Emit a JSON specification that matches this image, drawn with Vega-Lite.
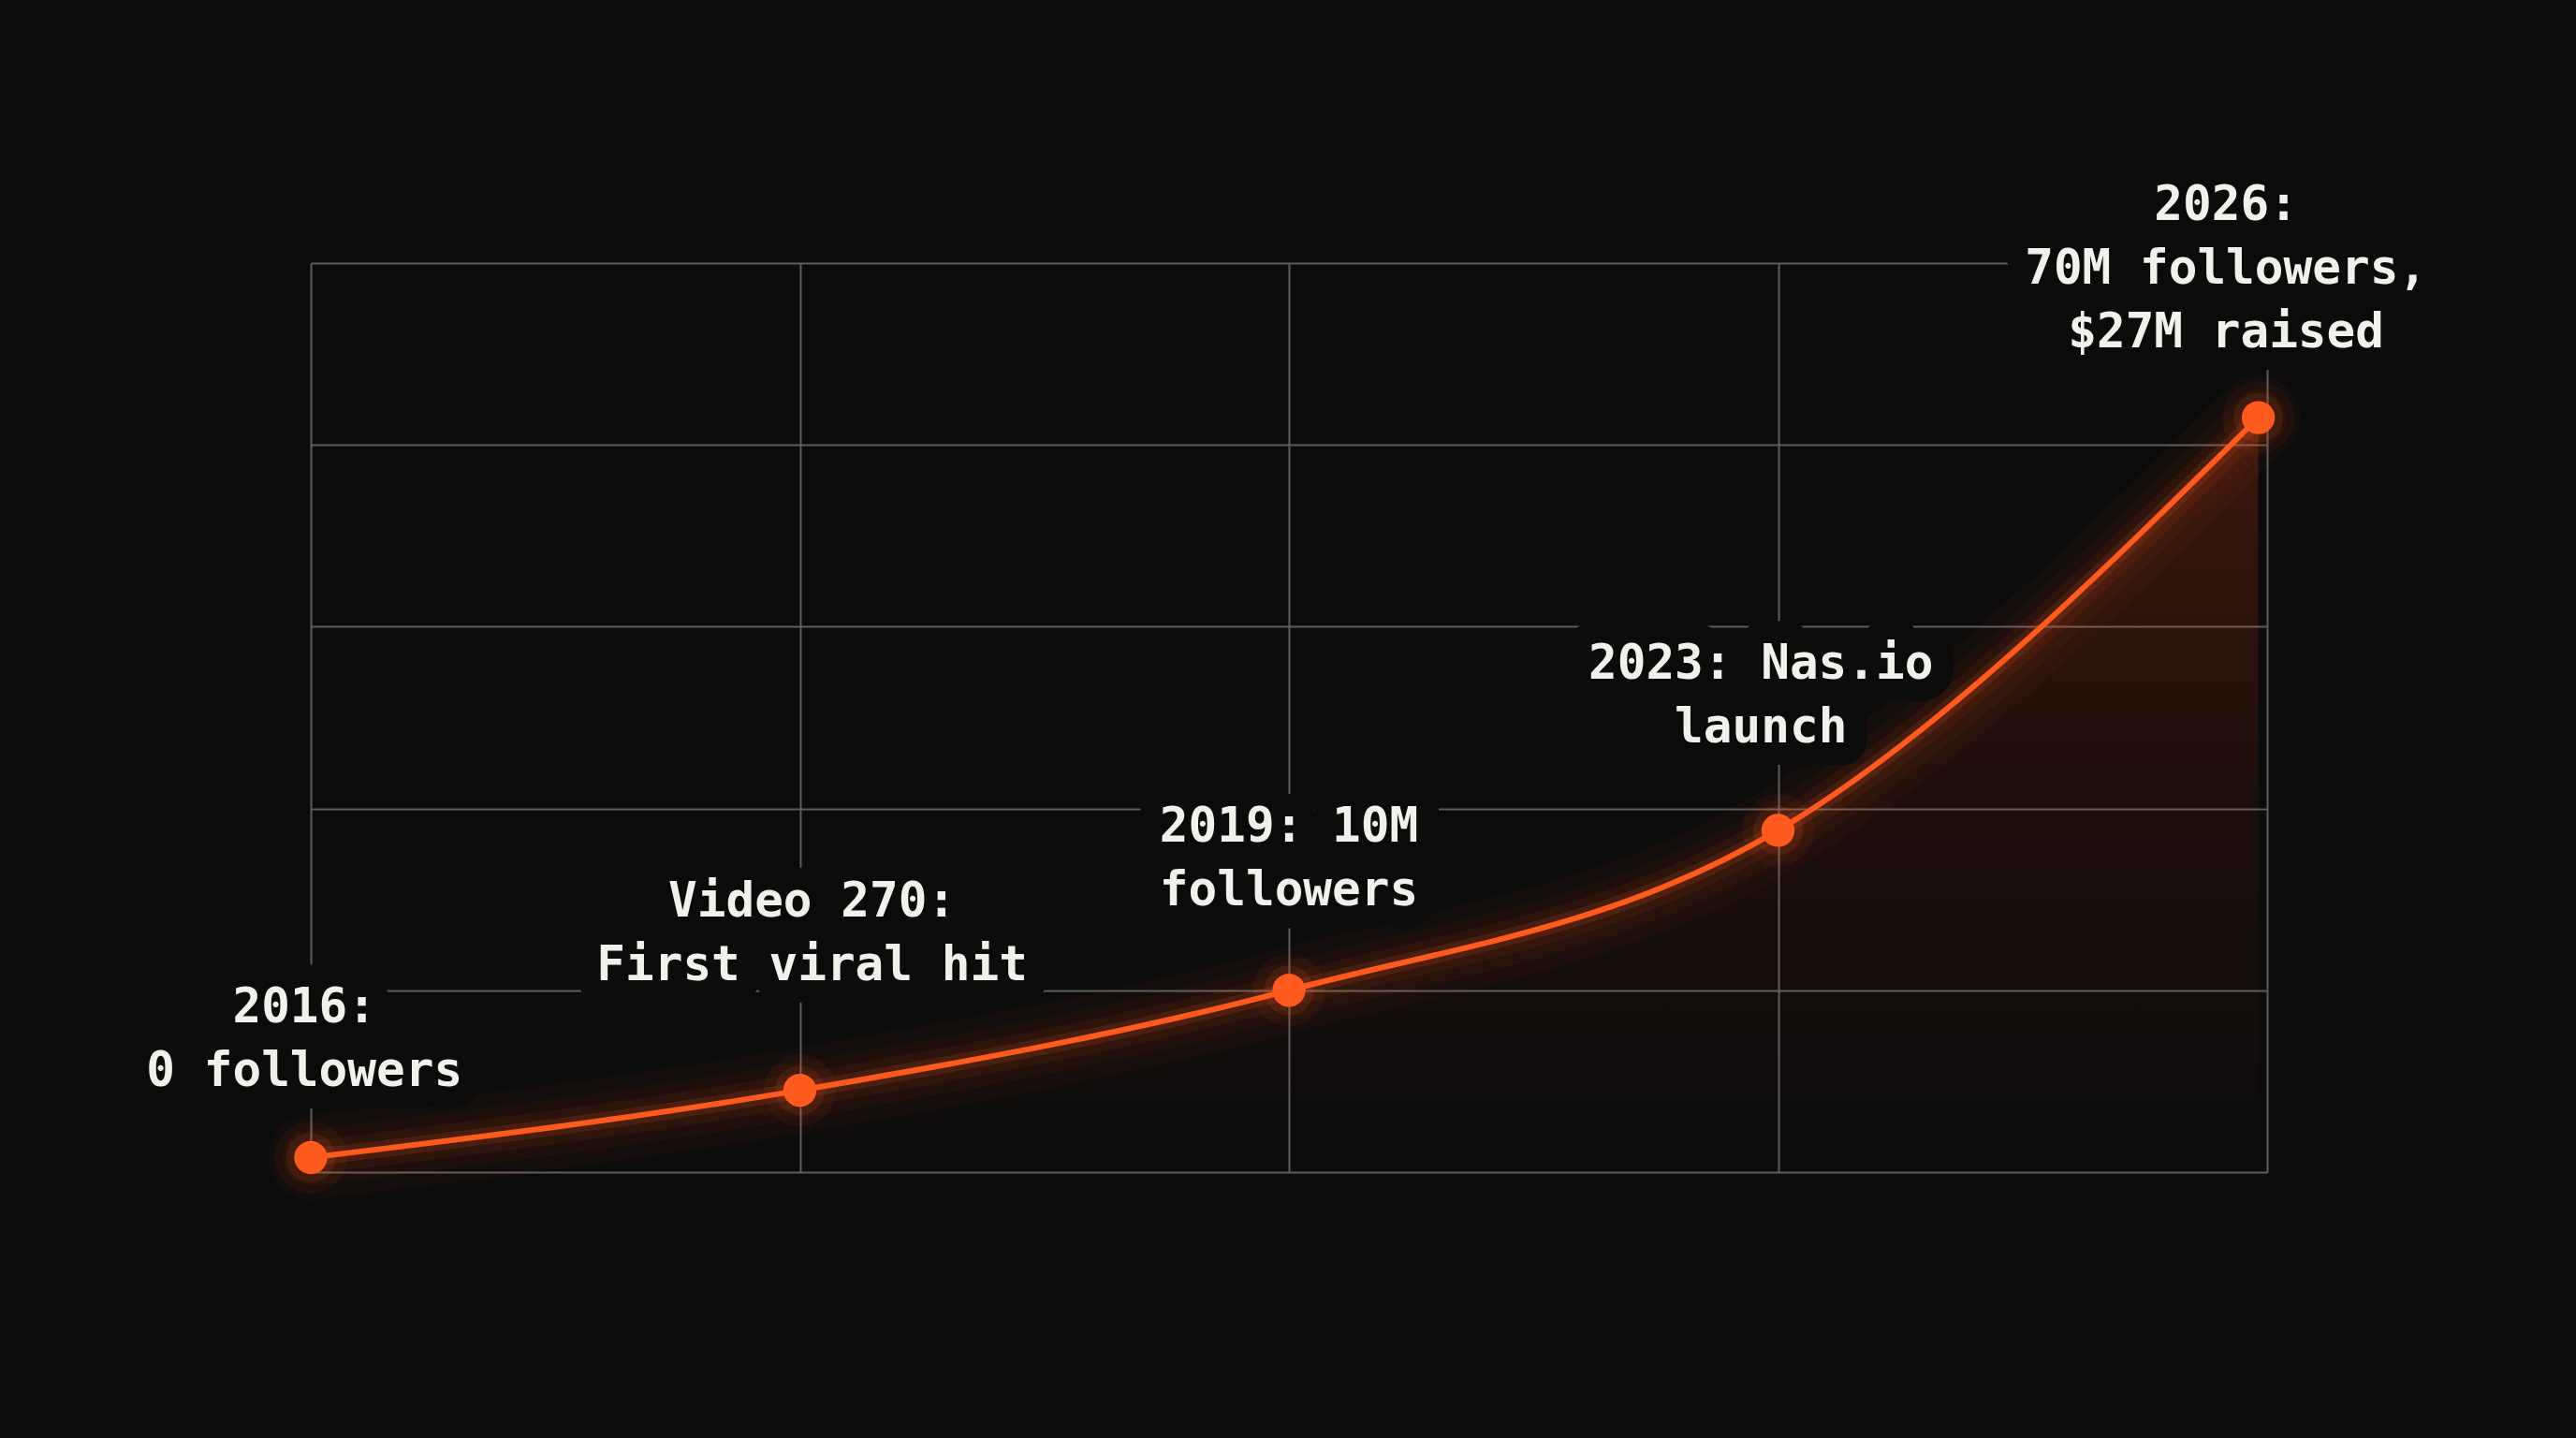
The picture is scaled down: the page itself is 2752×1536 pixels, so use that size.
{
  "$schema": "https://vega.github.io/schema/vega-lite/v6.json",
  "width": 2090,
  "height": 971,
  "autosize": {"type": "none"},
  "padding": {"left": 332, "top": 281, "right": 330, "bottom": 284},
  "background": "#0b0b0b",
  "config": {
    "view": {"stroke": null},
    "axis": {"grid": true, "gridColor": "#5e5e5e", "gridWidth": 2, "domain": false, "ticks": false, "labels": false, "title": null}
  },
  "datasets": {
    "pts": [
      {"x": 0, "y": 1.6},
      {"x": 1, "y": 9.0},
      {"x": 2, "y": 20.0},
      {"x": 3, "y": 37.6},
      {"x": 3.982, "y": 83.0}
    ],
    "labels": [
      {"x": -0.013, "y": 18.0, "label": "2016:\n0 followers"},
      {"x": 1.025, "y": 29.7, "label": "Video 270:\nFirst viral hit"},
      {"x": 2.0, "y": 37.9, "label": "2019: 10M\nfollowers"},
      {"x": 2.965, "y": 55.8, "label": "2023: Nas.io\nlaunch"},
      {"x": 3.916, "y": 106.3, "label": "2026:\n70M followers,\n$27M raised"}
    ]
  },
  "encoding": {
    "x": {"field": "x", "type": "quantitative", "scale": {"domain": [0, 4], "nice": false, "zero": false}, "axis": {"values": [0, 1, 2, 3, 4]}},
    "y": {"field": "y", "type": "quantitative", "scale": {"domain": [0, 100], "nice": false}, "axis": {"values": [0, 20, 40, 60, 80, 100]}}
  },
  "layer": [
    {
      "data": {"name": "pts"},
      "mark": {"type": "area", "interpolate": "monotone", "color": {"gradient": "linear", "x1": 0, "y1": 0, "x2": 0, "y2": 1, "stops": [{"offset": 0, "color": "rgba(255,70,20,0.2)"}, {"offset": 0.5, "color": "rgba(255,70,20,0.07)"}, {"offset": 1, "color": "rgba(255,70,20,0)"}]}}
    },
    {"data": {"name": "pts"}, "mark": {"type": "line", "interpolate": "monotone", "color": "#ff5a1e", "strokeWidth": 90, "opacity": 0.035, "strokeCap": "round"}},
    {"data": {"name": "pts"}, "mark": {"type": "line", "interpolate": "monotone", "color": "#ff5a1e", "strokeWidth": 60, "opacity": 0.045, "strokeCap": "round"}},
    {"data": {"name": "pts"}, "mark": {"type": "line", "interpolate": "monotone", "color": "#ff5a1e", "strokeWidth": 36, "opacity": 0.07, "strokeCap": "round"}},
    {"data": {"name": "pts"}, "mark": {"type": "line", "interpolate": "monotone", "color": "#ff5a1e", "strokeWidth": 18, "opacity": 0.14, "strokeCap": "round"}},
    {
      "data": {"name": "labels"},
      "mark": {"type": "text", "align": "center", "baseline": "middle", "lineBreak": "\n", "lineHeight": 68, "font": "DejaVu Sans Mono", "fontSize": 51, "fontWeight": "bold", "stroke": "#0b0b0b", "strokeWidth": 48, "strokeJoin": "round", "fill": "#0b0b0b"},
      "encoding": {"text": {"field": "label", "type": "nominal"}}
    },
    {"data": {"name": "pts"}, "mark": {"type": "line", "interpolate": "monotone", "color": "#ff5a1e", "strokeWidth": 6}},
    {"data": {"name": "pts"}, "mark": {"type": "circle", "color": "#ff5a1e", "size": 6000, "opacity": 0.06}},
    {"data": {"name": "pts"}, "mark": {"type": "circle", "color": "#ff5a1e", "size": 2800, "opacity": 0.12}},
    {"data": {"name": "pts"}, "mark": {"type": "circle", "color": "#ff5a1e", "size": 1250, "opacity": 1}},
    {
      "data": {"name": "labels"},
      "mark": {"type": "text", "align": "center", "baseline": "middle", "lineBreak": "\n", "lineHeight": 68, "font": "DejaVu Sans Mono", "fontSize": 51, "fontWeight": "bold", "fill": "#f2f0ea"},
      "encoding": {"text": {"field": "label", "type": "nominal"}}
    }
  ]
}
